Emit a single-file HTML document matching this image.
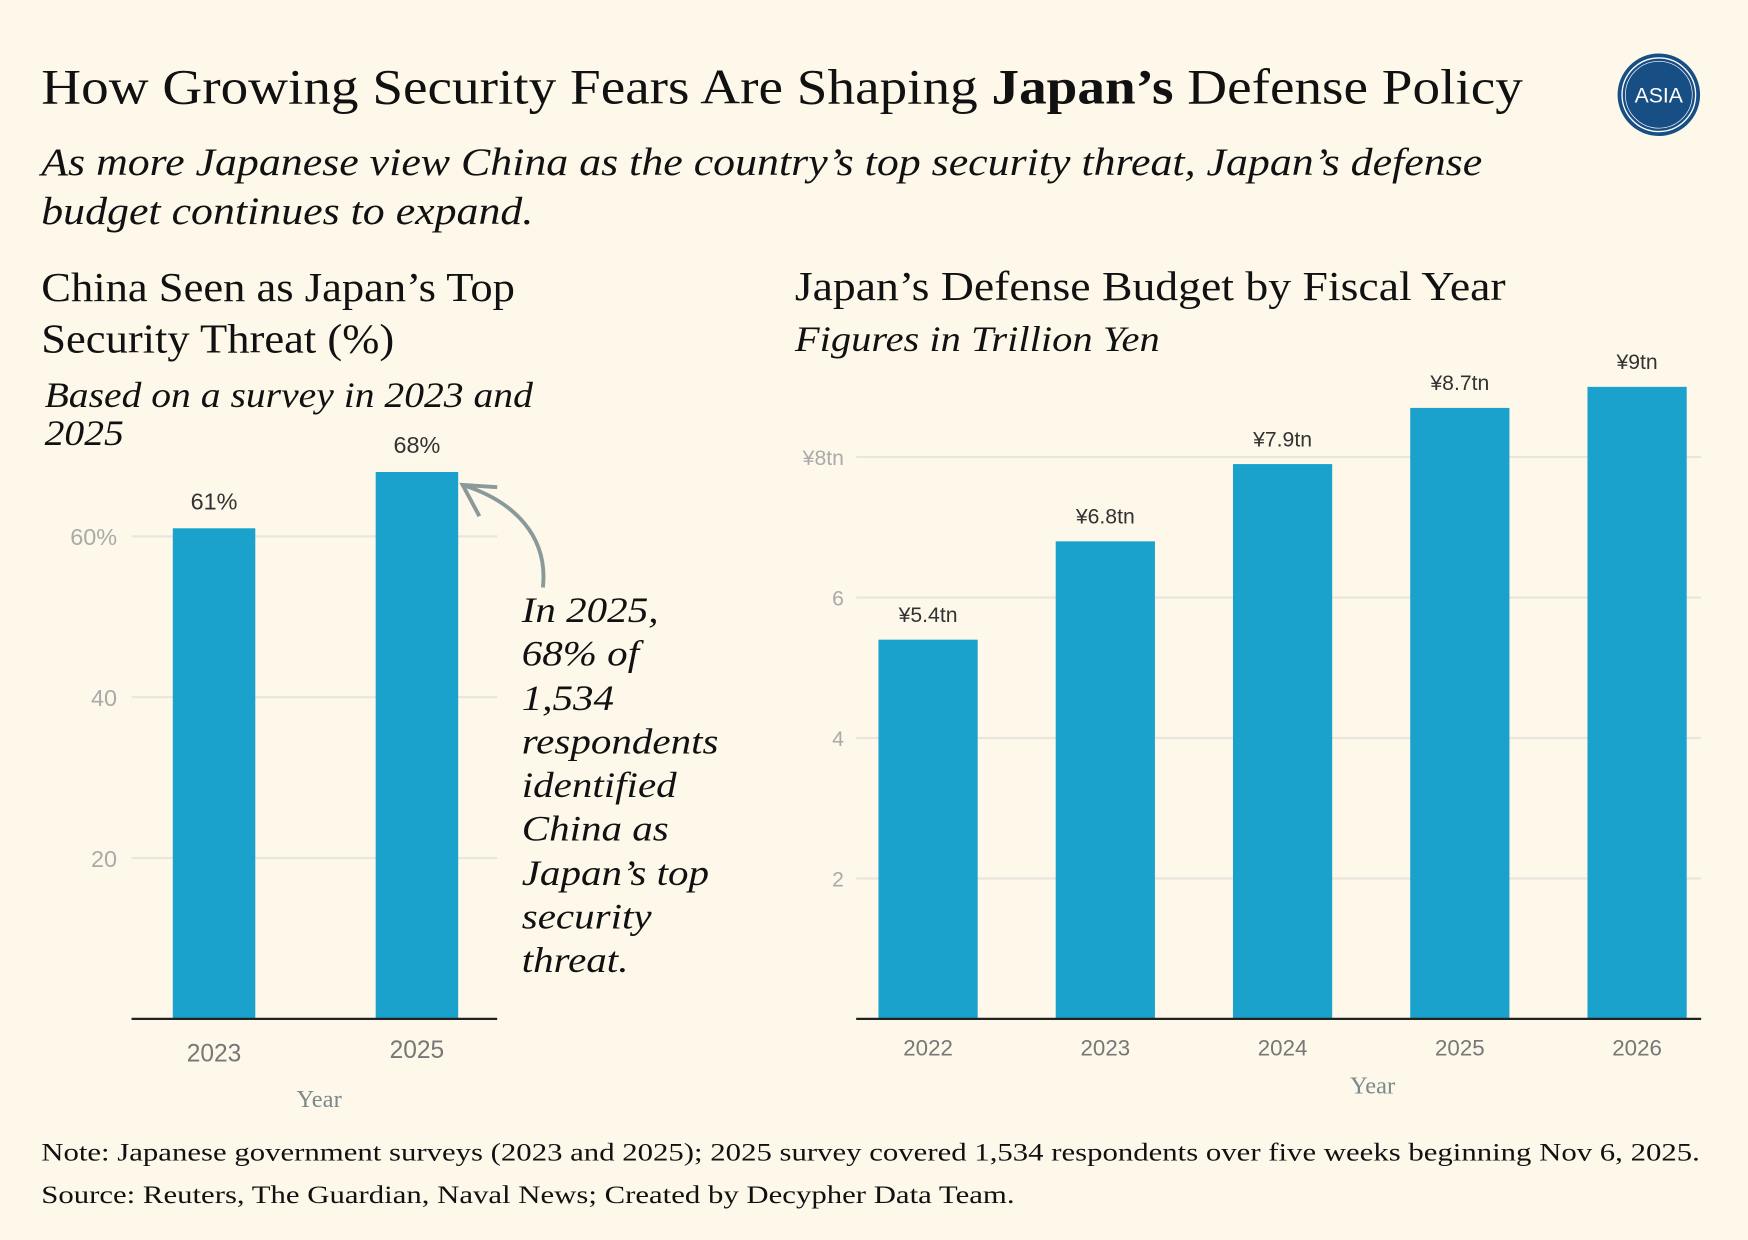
<!DOCTYPE html>
<html><head><meta charset="utf-8">
<style>
html,body{margin:0;padding:0;background:#fdf8ea;}
body{width:1748px;height:1240px;overflow:hidden;}
#wrap{position:absolute;left:0;top:0;width:1568px;height:1112px;transform:scale(1.1148);transform-origin:0 0;}
.t{position:absolute;white-space:nowrap;font-family:"Liberation Serif",serif;color:#111;transform-origin:0 0;}
.i{font-style:italic;}
svg text{font-family:"Liberation Sans",sans-serif;}
</style></head><body>
<div id="wrap">
<div class="t" style="left:37px;top:52px;font-size:45px;transform:scaleX(1.10);">How Growing Security Fears Are Shaping <b>Japan’s</b> Defense Policy</div>
<div class="t i" style="left:37px;top:124px;font-size:35px;line-height:44px;transform:scaleX(1.124);">As more Japanese view China as the country’s top security threat, Japan’s defense<br>budget continues to expand.</div>
<svg style="position:absolute;left:1448px;top:46px" width="80" height="80">
<circle cx="40" cy="39" r="37" fill="#174e84"/><circle cx="40" cy="39" r="33" fill="none" stroke="#fff" stroke-width="1.2"/><circle cx="40" cy="39" r="30" fill="none" stroke="#fff" stroke-width="0.6"/>
<text x="40" y="46" fill="#fff" font-size="19" text-anchor="middle">ASIA</text></svg>
<div class="t" style="left:37px;top:236px;font-size:37px;line-height:46px;transform:scaleX(1.08);">China Seen as Japan’s Top<br>Security Threat (%)</div>
<div class="t i" style="left:40px;top:337px;font-size:32px;line-height:34px;transform:scaleX(1.11);">Based on a survey in 2023 and<br>2025</div>
<div class="t" style="left:713px;top:236px;font-size:37px;transform:scaleX(1.108);">Japan’s Defense Budget by Fiscal Year</div>
<div class="t i" style="left:713px;top:286px;font-size:32px;transform:scaleX(1.135);">Figures in Trillion Yen</div>
<div class="t i" style="left:468px;top:528px;font-size:32px;line-height:39.3px;transform:scaleX(1.15);">In 2025,<br>68% of<br>1,534<br>respondents<br>identified<br>China as<br>Japan’s top<br>security<br>threat.</div>
<div class="t" style="left:266px;top:973px;font-size:22px;color:#7a8a8a;">Year</div>
<div class="t" style="left:1211px;top:961px;font-size:22px;color:#7a8a8a;">Year</div>
<div class="t" style="left:37px;top:1015px;font-size:23px;line-height:38px;transform:scaleX(1.2);">Note: Japanese government surveys (2023 and 2025); 2025 survey covered 1,534 respondents over five weeks beginning Nov 6, 2025.<br>Source: Reuters, The Guardian, Naval News; Created by Decypher Data Team.</div>
<svg id="chart" width="1568" height="1112" style="position:absolute;left:0;top:0"></svg>
</div>
<script>
const leftCats=["2023","2025"];
const leftVals=[61,68];
const leftTicks=[20,40,60];
const leftTickLabels=["20","40","60%"];
const rightCats=["2022","2023","2024","2025","2026"];
const rightVals=[5.4,6.8,7.9,8.7,9.0];
const rightLabels=["¥5.4tn","¥6.8tn","¥7.9tn","¥8.7tn","¥9tn"];
const rightTicks=[2,4,6,8];
const rightTickLabels=["2","4","6","¥8tn"];
const NS="http://www.w3.org/2000/svg";
const svg=document.getElementById('chart');
function mk(tag,a,txt){const e=document.createElementNS(NS,tag);for(const k in a)e.setAttribute(k,a[k]);if(txt!==undefined)e.textContent=txt;svg.appendChild(e);return e;}
const lY=v=>914-v*(144.3/20);
const lX=i=>192+i*182;
leftTicks.forEach((t,i)=>{
 const g=mk('line',{x1:118,x2:446,y1:lY(t),y2:lY(t),stroke:'#e9e6df','stroke-width':2});
 
 const tx=mk('text',{x:105,y:lY(t)+8,'text-anchor':'end','font-size':21,fill:'#aaa'},leftTickLabels[i]);
 
});
leftVals.forEach((v,i)=>{
 const r=mk('rect',{x:lX(i)-37,y:lY(v),width:74,height:914-lY(v),fill:'#1aa1cc'});
 
 const l=mk('text',{x:lX(i),y:lY(v)-17,'text-anchor':'middle','font-size':21,fill:'#333'},v+'%');
 
 const c=mk('text',{x:lX(i),y:952-i*3,'text-anchor':'middle','font-size':22,fill:'#777'},leftCats[i]);
 
});
const la=mk('line',{x1:118,x2:446,y1:914,y2:914,stroke:'#222','stroke-width':2});

const ar=mk('path',{d:'M487,527 C492,480 460,450 418,436',fill:'none',stroke:'#8a9a9a','stroke-width':3.5});

const ah=mk('path',{d:'M430,463 L415,435 L446,437',fill:'none',stroke:'#8a9a9a','stroke-width':3.5});

const rY=v=>914-v*63;
const rX=i=>832.5+i*159;
rightTicks.forEach((t,i)=>{
 const g=mk('line',{x1:768,x2:1526,y1:rY(t),y2:rY(t),stroke:'#e9e6df','stroke-width':2});
 
 const tx=mk('text',{x:757,y:rY(t)+7,'text-anchor':'end','font-size':19,fill:'#aaa'},rightTickLabels[i]);
 
});
rightVals.forEach((v,i)=>{
 const r=mk('rect',{x:rX(i)-44.5,y:rY(v),width:89,height:914-rY(v),fill:'#1aa1cc'});
 
 const l=mk('text',{x:rX(i),y:rY(v)-16,'text-anchor':'middle','font-size':19,fill:'#333'},rightLabels[i]);
 
 const c=mk('text',{x:rX(i),y:947,'text-anchor':'middle','font-size':20,fill:'#777'},rightCats[i]);
 
});
const ra=mk('line',{x1:768,x2:1526,y1:914,y2:914,stroke:'#222','stroke-width':2});

</script>
</body></html>
